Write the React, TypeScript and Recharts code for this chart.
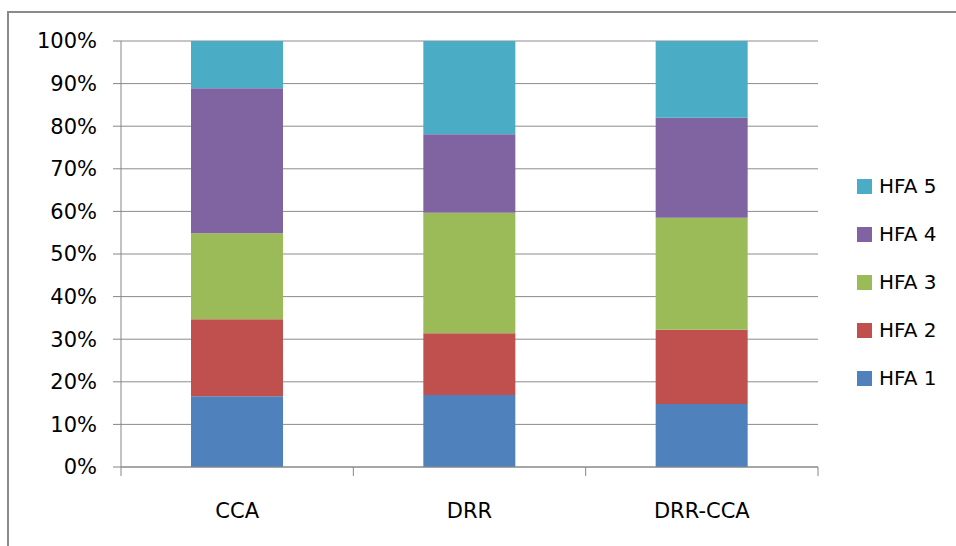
import React from "react";
import { BarChart, Bar, XAxis, YAxis, CartesianGrid } from "recharts";

const categories = ["CCA", "DRR", "DRR-CCA"];
const hfa1 = [16.6, 16.9, 14.8];
const hfa2 = [18.1, 14.5, 17.4];
const hfa3 = [20.2, 28.3, 26.3];
const hfa4 = [34.0, 18.4, 23.5];
const hfa5 = [11.1, 21.9, 18.0];
const yTicks = [0, 10, 20, 30, 40, 50, 60, 70, 80, 90, 100];

const seriesNames = ["HFA 1", "HFA 2", "HFA 3", "HFA 4", "HFA 5"];
const seriesKeys = ["hfa1", "hfa2", "hfa3", "hfa4", "hfa5"];
const colors = ["#4F81BD", "#C0504D", "#9BBB59", "#8064A2", "#4BACC6"];

const data = categories.map((c, i) => ({
  name: c,
  hfa1: hfa1[i],
  hfa2: hfa2[i],
  hfa3: hfa3[i],
  hfa4: hfa4[i],
  hfa5: hfa5[i],
}));

const FONT = "'DejaVu Sans', sans-serif";
const W = 956;
const H = 546;
const M = { top: 41, right: 138, bottom: 0, left: 0 };
const X_H = 79;
const Y_W = 121;
const BAND = (W - M.right - M.left - Y_W) / categories.length;

const XTick = (props: any) => {
  const { x, y, payload, index } = props;
  const left = x - BAND / 2;
  const right = x + BAND / 2;
  return (
    <g>
      <line x1={left} x2={left} y1={y} y2={y + 9} stroke="#868686" strokeWidth={1} />
      {index === categories.length - 1 && (
        <line x1={right} x2={right} y1={y} y2={y + 9} stroke="#868686" strokeWidth={1} />
      )}
      <text x={x} y={y + 51} textAnchor="middle" fill="#000" fontSize={21} fontFamily={FONT}>
        {payload.value}
      </text>
    </g>
  );
};

const LegendBox = () => {
  const items = seriesNames.map((n, i) => ({ n, c: colors[i] })).reverse();
  return (
    <div style={{ position: "absolute", left: 857, top: 162, fontFamily: FONT, fontSize: 20, color: "#000" }}>
      {items.map((it) => (
        <div key={it.n} style={{ display: "flex", alignItems: "center", height: 48 }}>
          <span style={{ width: 15, height: 15, background: it.c, display: "inline-block", marginRight: 7 }} />
          <span>{it.n}</span>
        </div>
      ))}
    </div>
  );
};

export default function App() {
  return (
    <div style={{ position: "absolute", left: 0, top: 0, width: W, height: H, overflow: "hidden", background: "#fff" }}>
      <div
        style={{
          position: "absolute",
          left: 7,
          top: 11,
          width: 1000,
          height: 600,
          borderLeft: "2px solid #8a8a8a",
          borderTop: "2px solid #8a8a8a",
        }}
      />
      <div style={{ position: "absolute", left: 0, top: 0 }}>
        <BarChart width={W} height={H} data={data} margin={M} barSize={92}>
          <CartesianGrid vertical={false} stroke="#8c8c8c" strokeWidth={1} />
          <XAxis
            dataKey="name"
            stroke="#868686"
            tickLine={false}
            tickSize={0}
            tickMargin={0}
            height={X_H}
            tick={<XTick />}
            interval={0}
          />
          <YAxis
            width={Y_W}
            domain={[0, 100]}
            ticks={yTicks}
            tickFormatter={(v: number) => `${v}%`}
            stroke="#868686"
            tickSize={8}
            tickMargin={16}
            tick={{ fill: "#000", fontSize: 21, fontFamily: FONT }}
            interval={0}
          />
          {seriesKeys.map((k, i) => (
            <Bar key={k} dataKey={k} name={seriesNames[i]} stackId="a" fill={colors[i]} isAnimationActive={false} />
          ))}
        </BarChart>
      </div>
      <LegendBox />
    </div>
  );
}
